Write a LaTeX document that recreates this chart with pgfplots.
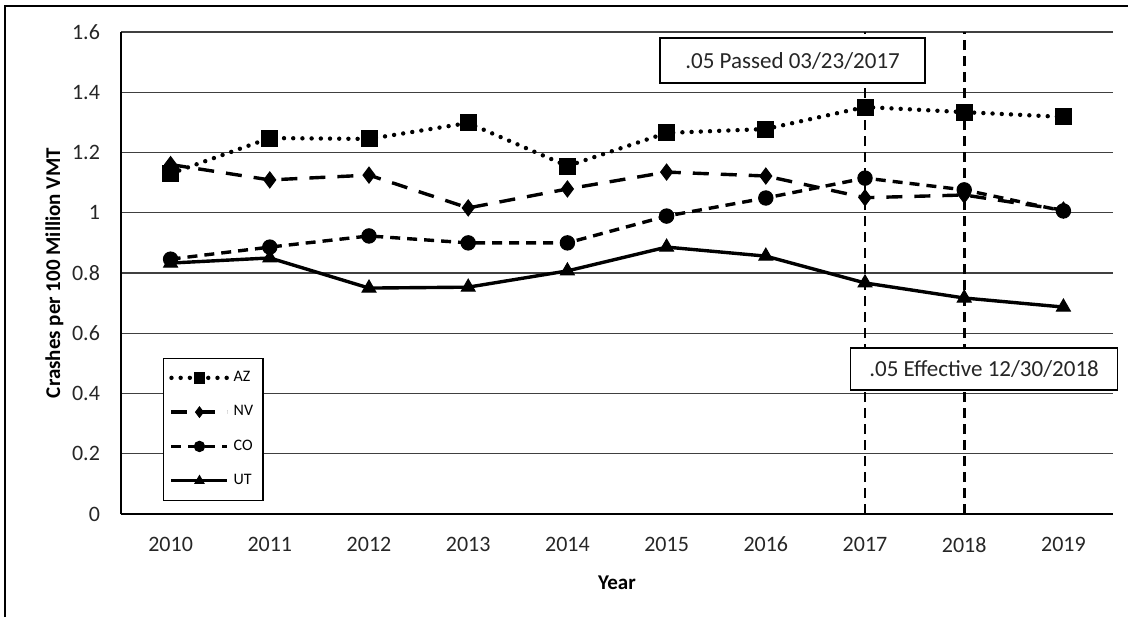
\documentclass[border=0pt]{standalone}
\usepackage{pgfplots}
\pgfplotsset{compat=1.18}
\usepackage{fontspec}
\setmainfont{Carlito}
\begin{document}
\begin{tikzpicture}
\begin{axis}[
  at={(0,0)}, anchor=south west,
  scale only axis, width=496pt, height=241pt,
  xmin=-0.5, xmax=9.5, ymin=0, ymax=1.6,
  xtick={0,...,9},
  xticklabels={2010,2011,2012,2013,2014,2015,2016,2017,2018,2019},
  ytick={0,0.2,...,1.6},
  yticklabel style={/pgf/number format/fixed,/pgf/number format/precision=1},
  /pgf/number format/assume math mode=true,
  tick label style={font=\fontsize{11}{13}\selectfont, text=black!85},
  major tick length=0pt,
  xticklabel style={yshift=-8pt},
  yticklabel style={xshift=-7pt},
  axis x line*=bottom, axis y line*=left,
  axis line style={line width=1.1pt, -},
  ymajorgrids, grid style={line width=0.6pt, black!75},
  xlabel={\textbf{Year}}, ylabel={\textbf{Crashes per 100 Million VMT}},
  label style={font=\fontsize{10.5}{12}\selectfont},
  xlabel style={yshift=-5pt},
  ylabel style={yshift=-2.5pt},
  clip=false,
  legend style={at={(axis description cs:0.042,0.027)}, anchor=south west,
    draw=black, line width=0.6pt, font=\fontsize{8}{9}\selectfont,
    row sep=6.5pt, inner xsep=3pt, inner ysep=4.5pt},
  legend cell align=left,
  legend image code/.code={\draw[#1] (0pt,0pt) -- (28pt,0pt); \draw[#1, solid, mark repeat=1, mark phase=1, mark size=2.6pt] plot coordinates {(14pt,0pt)};},
]
\addplot[black, line width=2.2pt, line cap=round, dash pattern=on 0pt off 4.6pt, mark=square*, mark size=4pt, mark options={solid, line width=0.5pt}]
  coordinates {(0,1.13) (1,1.248) (2,1.245) (3,1.298) (4,1.155) (5,1.265) (6,1.278) (7,1.351) (8,1.334) (9,1.318)};
\addlegendentry{AZ}
\addplot[black, line width=1.7pt, dash pattern=on 8pt off 6pt, mark=diamond*, mark size=4pt, mark options={solid, line width=0.5pt}]
  coordinates {(0,1.16) (1,1.109) (2,1.125) (3,1.016) (4,1.079) (5,1.135) (6,1.122) (7,1.05) (8,1.059) (9,1.009)};
\addlegendentry{NV}
\addplot[black, line width=1.7pt, dash pattern=on 5pt off 3.5pt, mark=*, mark size=3.6pt, mark options={solid, line width=0.5pt}]
  coordinates {(0,0.846) (1,0.886) (2,0.923) (3,0.90) (4,0.90) (5,0.989) (6,1.049) (7,1.115) (8,1.076) (9,1.006)};
\addlegendentry{CO}
\addplot[black, line width=1.7pt, mark=triangle*, mark size=4pt, mark options={line width=0.5pt}]
  coordinates {(0,0.833) (1,0.85) (2,0.75) (3,0.753) (4,0.807) (5,0.886) (6,0.856) (7,0.767) (8,0.717) (9,0.687)};
\addlegendentry{UT}
\addplot[black, line width=1.3pt, dash pattern=on 5pt off 3pt, forget plot] coordinates {(7,0) (7,1.6)};
\addplot[black, line width=1.3pt, dash pattern=on 5pt off 3pt, forget plot] coordinates {(8,0) (8,1.6)};
\node[draw=black, line width=0.8pt, fill=white, minimum width=132.5pt, minimum height=22.5pt, inner sep=0pt, font=\fontsize{11.5}{13}\selectfont, text=black!85]
  at (axis cs:6.27,1.505) {.05 Passed 03/23/2017};
\node[draw=black, line width=0.8pt, fill=white, minimum width=133.5pt, minimum height=21pt, inner sep=0pt, font=\fontsize{11.5}{13}\selectfont, text=black!85]
  at (axis cs:8.2,0.481) {.05 Effective 12/30/2018};
\end{axis}
\draw[line width=1.2pt] (-58pt,-51.5pt) -- (-58pt,254pt) -- (503.5pt,254pt);
\pgfresetboundingbox
\useasboundingbox (-60.5pt,-51.5pt) rectangle (503.5pt,257pt);
\end{tikzpicture}
\end{document}
